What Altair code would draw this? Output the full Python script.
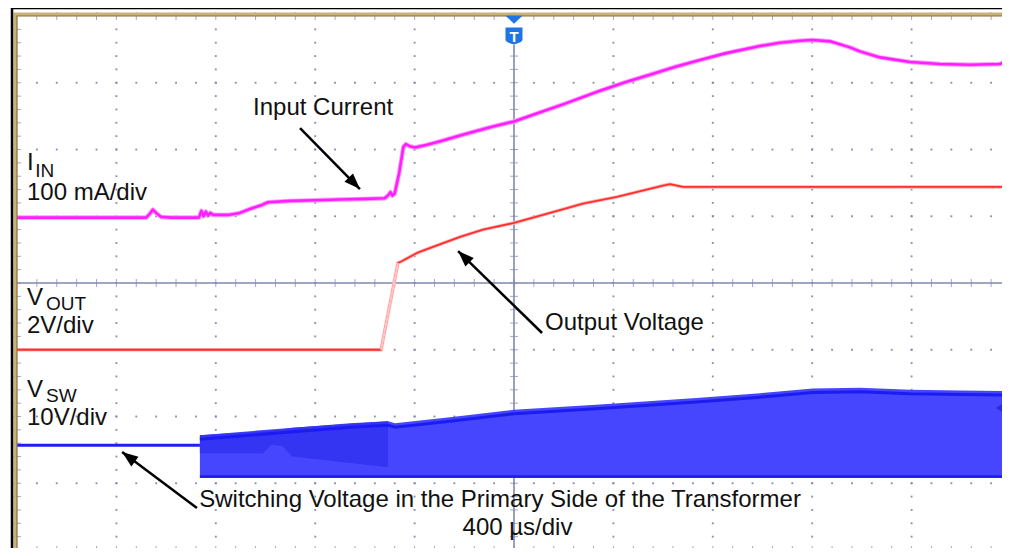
import math
import pandas as pd
import altair as alt

# ---------------- data (time in µs, value in screen divisions) ----------------
iin_t = [-2000, -1600, -1480, -1465, -1453, -1440, -1420, -1380, -1268, -1258, -1249, -1240,
         -1231, -1222, -1210, -1150, -1103, -1062, -1014, -990, -901, -800, -700, -600,
         -520, -505, -497, -489, -480, -462, -445, -435, -420, -398, -350, -300, -217,
         -100, 0, 100, 200, 346, 450, 547, 650, 748, 850, 990, 1070, 1150, 1200, 1272,
         1352, 1392, 1473, 1594, 1714, 1835, 1956, 1976, 2000]
iin_v = [0.98, 0.98, 0.98, 1.04, 1.10, 1.05, 0.99, 0.98, 0.98, 1.08, 1.00, 1.07,
         1.01, 1.05, 1.02, 1.02, 1.05, 1.11, 1.17, 1.21, 1.23, 1.24, 1.25, 1.26,
         1.27, 1.32, 1.36, 1.31, 1.34, 1.65, 2.04, 2.08, 2.05, 2.03, 2.07, 2.12, 2.21,
         2.33, 2.42, 2.55, 2.68, 2.88, 3.01, 3.12, 3.24, 3.34, 3.44, 3.55, 3.60, 3.63, 3.64, 3.62,
         3.53, 3.47, 3.38, 3.31, 3.28, 3.27, 3.28, 3.32, 3.24]

vout_t = [-2000, -535, -467, -450, -390, -326, -217, -125, 0, 145, 278, 414, 600, 628, 680, 748, 2000]
vout_v = [-1.00, -1.00, 0.30, 0.33, 0.45, 0.54, 0.69, 0.80, 0.90, 1.05, 1.19, 1.29, 1.46, 1.48, 1.44, 1.44, 1.44]

vsw_flat_t = [-2000, -1264]
vsw_flat_v = [-2.43, -2.43]
vsw_t = [-1264, -1062, -861, -660, -507, -479, -258, 0, 346, 748, 990, 1203, 1392, 1594, 1795, 2000]
vsw_top = [-2.28, -2.22, -2.16, -2.10, -2.07, -2.10, -2.01, -1.90, -1.82, -1.72, -1.65, -1.58,
           -1.57, -1.60, -1.61, -1.62]
vsw_bot = [-2.92, -2.92, -2.92, -2.92, -2.92, -2.92, -2.92, -2.92, -2.92, -2.92, -2.92, -2.92,
           -2.92, -2.92, -2.92, -2.92]
ghost_t = [-1264, -1010, -975, -930, -893, -507]
ghost_lo = [-2.55, -2.55, -2.42, -2.45, -2.60, -2.76]
ghost_hi = [-2.28, -2.22, -2.21, -2.19, -2.17, -2.07]

label_text = ["Input Current", "I", "IN", "100 mA/div", "V", "OUT", "2V/div", "V", "SW",
              "10V/div", "Output Voltage"]
label_t = [-1050, -1960, -1927, -1960, -1960, -1883, -1960, -1960, -1883, -1960, 125]
label_v = [2.517, 1.693, 1.588, 1.243, -0.330, -0.404, -0.749, -1.708, -1.783, -2.127, -0.704]
label_size = [24, 24, 19, 24, 24, 19, 24, 24, 19, 24, 24]

center_text = ["Switching Voltage in the Primary Side of the Transformer", "400 µs/div"]
center_t = [-56, 14]
center_v = [-3.356, -3.775]

arr_t1 = [-861, 113, -1276]
arr_v1 = [2.322, -0.749, -3.371]
arr_t2 = [-620, -225, -1577]
arr_v2 = [1.408, 0.479, -2.532]

# ---------------- layout ----------------
W, H = 994, 534
T0, T1, V0, V1 = -2000, 2000, -4, 4
PX_T = W / (T1 - T0)
PX_V = H / (V1 - V0)
FONT = "Liberation Sans"
GRID = "#7c83aa"

xs = alt.Scale(domain=[T0, T1], nice=False, zero=False)
ys = alt.Scale(domain=[V0, V1], nice=False, zero=False)


def X(f="t"):
    return alt.X(f"{f}:Q", scale=xs, axis=None)


def Y(f="v"):
    return alt.Y(f"{f}:Q", scale=ys, axis=None)


one = pd.DataFrame({"a": [0]})

# graticule dots
dots = []
for i in range(1, 10):
    if i == 5:
        continue
    for k in range(1, 40):
        dots.append({"t": T0 + 400 * i, "v": round(V0 + 0.2 * k, 3)})
for j in range(1, 8):
    if j == 4:
        continue
    for m in range(1, 50):
        dots.append({"t": T0 + 80 * m, "v": V0 + j})
dots = pd.DataFrame(dots)

hticks = pd.DataFrame([{"t": t, "v": round(V0 + 0.2 * k, 3)} for t in (T0, 0, T1) for k in range(1, 40)])
vticks = pd.DataFrame([{"t": T0 + 80 * m, "v": v} for v in (V0, 0, V1) for m in range(1, 50)])

layers = []
layers.append(alt.Chart(dots).mark_square(size=3.5, color=GRID, opacity=0.9).encode(x=X(), y=Y()))
layers.append(alt.Chart(hticks).mark_tick(orient="horizontal", size=8, thickness=1, color=GRID).encode(x=X(), y=Y()))
layers.append(alt.Chart(vticks).mark_tick(orient="vertical", size=8, thickness=1, color=GRID).encode(x=X(), y=Y()))

# center axes
axes = pd.DataFrame({"t": [T0, 0], "t2": [T1, 0], "v": [0, V0], "v2": [0, 3.57]})
layers.append(alt.Chart(axes).mark_rule(color="#7f89b0", strokeWidth=1.6).encode(
    x=X(), x2="t2:Q", y=Y(), y2="v2:Q"))

# V_SW band
sw = pd.DataFrame({"t": vsw_t, "top": vsw_top, "bot": vsw_bot})
gh = pd.DataFrame({"t": ghost_t, "lo": ghost_lo, "hi": ghost_hi})
layers.append(alt.Chart(sw).mark_area(color="#4646ff", opacity=1).encode(x=X(), y=Y("top"), y2="bot:Q"))
layers.append(alt.Chart(gh).mark_area(color="#3434f3", opacity=1).encode(x=X(), y=Y("hi"), y2="lo:Q"))
layers.append(alt.Chart(sw).mark_line(color="#1c1cf2", strokeWidth=3, yOffset=4).encode(x=X(), y=Y("top")))
layers.append(alt.Chart(sw).mark_line(color="#1c1cf2", strokeWidth=2.5, yOffset=-1.5).encode(x=X(), y=Y("bot")))
swf = pd.DataFrame({"t": vsw_flat_t, "v": vsw_flat_v})
layers.append(alt.Chart(swf).mark_line(color="#1f1ff0", strokeWidth=3).encode(x=X(), y=Y()))

# V_OUT
vo = pd.DataFrame({"t": vout_t, "v": vout_v})
edge = vo[(vo.t >= -535) & (vo.t <= -467)]
layers.append(alt.Chart(vo).mark_line(color="#ffb4b4", strokeWidth=3.5).encode(x=X(), y=Y()))
layers.append(alt.Chart(vo).mark_line(color="#ff2f2f", strokeWidth=1.8, strokeJoin="round").encode(x=X(), y=Y()))
layers.append(alt.Chart(edge).mark_line(color="#ffc4c4", strokeWidth=2.2).encode(x=X(), y=Y()))

# I_IN
ii = pd.DataFrame({"t": iin_t, "v": iin_v})
layers.append(alt.Chart(ii).mark_line(color="#ff9cff", strokeWidth=4.5, strokeJoin="round").encode(x=X(), y=Y()))
layers.append(alt.Chart(ii).mark_line(color="#ff1eff", strokeWidth=2.6, strokeJoin="round").encode(x=X(), y=Y()))

# trigger-level marker on the right
lvl = pd.DataFrame({"t": [1956], "v": [-1.873]})
lvl_rule = pd.DataFrame({"t": [1972], "t2": [T1], "v": [-1.873]})
layers.append(alt.Chart(lvl_rule).mark_rule(color="#2a2ad8", strokeWidth=2).encode(x=X(), x2="t2:Q", y=Y()))
layers.append(alt.Chart(lvl).mark_point(shape="M-0.7,0L0.5,-0.8L0.5,0.8Z", size=144, filled=True,
                                        color="#2a2ad8", opacity=1).encode(x=X(), y=Y()))

# arrows
ang = []
for a, b, c, d in zip(arr_t1, arr_v1, arr_t2, arr_v2):
    dx = (c - a) * PX_T
    dy = -(d - b) * PX_V
    ang.append(math.degrees(math.atan2(dx, -dy)) % 360)
arr = pd.DataFrame({"t": arr_t1, "v": arr_v1, "t2": arr_t2, "v2": arr_v2, "ang": ang})
layers.append(alt.Chart(arr).mark_rule(color="black", strokeWidth=2.5).encode(
    x=X(), y=Y(), x2="t2:Q", y2="v2:Q"))
layers.append(alt.Chart(arr).mark_point(shape="M0,0L0.75,2L-0.75,2Z", size=256, filled=True,
                                        color="black", opacity=1, strokeWidth=0).encode(
    x=X("t2"), y=Y("v2"), angle=alt.Angle("ang:Q", scale=None)))

# texts
lab = pd.DataFrame({"t": label_t, "v": label_v, "s": label_text, "fs": label_size})
layers.append(alt.Chart(lab).mark_text(align="left", baseline="alphabetic", font=FONT, color="#111111").encode(
    x=X(), y=Y(), text="s:N", size=alt.Size("fs:Q", scale=None)))
cen = pd.DataFrame({"t": center_t, "v": center_v, "s": center_text})
layers.append(alt.Chart(cen).mark_text(align="center", baseline="alphabetic", font=FONT, fontSize=24,
                                       color="#111111").encode(x=X(), y=Y(), text="s:N"))

# frame
layers.append(alt.Chart(one).mark_rect(fill=None, stroke="#c9b27a", strokeWidth=3.5).encode(
    x=alt.value(-1.8), x2=alt.value(W + 1.8), y=alt.value(-1.8), y2=alt.value(H + 1.8)))
layers.append(alt.Chart(one).mark_rect(fill=None, stroke="#8c6d3c", strokeWidth=1.2).encode(
    x=alt.value(0), x2=alt.value(W), y=alt.value(0), y2=alt.value(H)))
layers.append(alt.Chart(one).mark_rect(fill=None, stroke="black", strokeWidth=2.5).encode(
    x=alt.value(-5), x2=alt.value(W + 30), y=alt.value(-8), y2=alt.value(H + 30)))

# trigger "T" marker
tri = pd.DataFrame({"t": [0], "v": [3.948]})
shd = pd.DataFrame({"t": [0], "v": [3.70], "s": ["T"]})
layers.append(alt.Chart(tri).mark_point(shape="M-1,-0.45L1,-0.45L0,0.5Z", size=289, filled=True,
                                        color="#1f74e6", opacity=1).encode(x=X(), y=Y()))
layers.append(alt.Chart(shd).mark_point(shape="M-1,-1L1,-1L1,0.45Q1,0.75 0,1Q-1,0.75 -1,0.45Z", size=289,
                                        filled=True, color="#1f74e6", opacity=1).encode(x=X(), y=Y()))
layers.append(alt.Chart(shd).mark_text(font=FONT, fontSize=15, fontWeight="bold", color="white",
                                       baseline="middle", align="center", dy=1).encode(x=X(), y=Y(), text="s:N"))

chart = alt.layer(*layers).properties(
    width=W, height=H, autosize="none",
    padding={"left": 9, "top": 8, "right": -9, "bottom": -2},
    background="white",
).configure_view(stroke=None)

chart.save("out.html", embed_options={"renderer": "svg", "actions": False})
